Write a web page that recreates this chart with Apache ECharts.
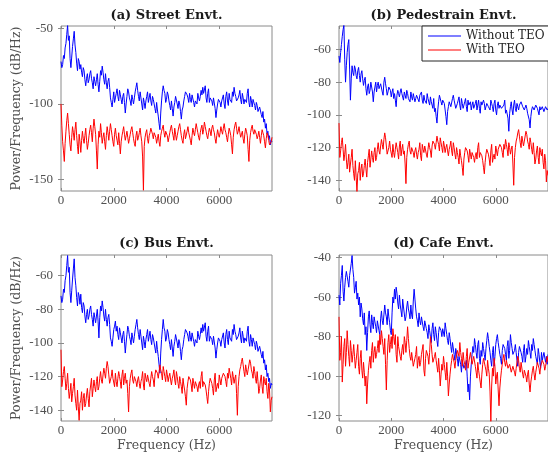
<!DOCTYPE html>
<html>
<head>
<meta charset="utf-8">
<script src="https://cdn.jsdelivr.net/npm/echarts@6/dist/echarts.min.js"></script>
<style>
html,body{margin:0;padding:0;background:#fff;}
#chart{width:548px;height:460px;}
</style>
</head>
<body>
<div id="chart"></div>
<script>
// ---- data: PSD values (dB/Hz) on evenly spaced frequency bins from 0 to 8000 Hz ----
const freqMax = 8000;

const panelTitles = ['(a) Street Envt.', '(b) Pedestrain Envt.', '(c) Bus Envt.', '(d) Cafe Envt.'];
const seriesNames = ['Without TEO', 'With TEO'];
const xTickValues = [0, 2000, 4000, 6000];
const yTicksA = [-150, -100, -50];
const yTicksB = [-140, -120, -100, -80, -60];
const yTicksC = [-140, -120, -100, -80, -60];
const yTicksD = [-120, -100, -80, -60, -40];

const streetWithout = [
-72,-76,-74,-68,-70,-63,-60,-54,-48,-58,-55,-70,-76,-69,-62,-57,-52,-61,-66,-73,-78,-70,-72,-77,-74,-79,-82,-76,-78,-84,-88,-83,-80,-86,-84,-80,-78,-83,-86,-90,
-82,-85,-88,-84,-80,-87,-92,-85,-78,-81,-75,-79,-84,-87,-80,-86,-90,-85,-83,-89,-96,-99,-102,-97,-92,-99,-96,-93,-90,-95,-98,-91,-94,-97,-100,-95,-93,-99,-106,-100,
-95,-90,-92,-96,-98,-101,-94,-97,-100,-96,-92,-89,-86,-91,-95,-98,-92,-96,-100,-104,-96,-99,-103,-98,-95,-92,-99,-96,-93,-98,-101,-95,-97,-100,-103,-106,-99,-104,-108,-113,
-117,-106,-98,-92,-88,-91,-93,-99,-97,-92,-94,-98,-101,-104,-98,-103,-108,-102,-99,-95,-96,-100,-103,-98,-100,-105,-110,-104,-102,-98,-95,-92,-91,-94,-96,-99,-93,-97,-99,-94,
-95,-99,-102,-98,-97,-100,-93,-96,-98,-95,-91,-94,-89,-93,-92,-88,-96,-99,-93,-90,-99,-96,-95,-98,-101,-96,-97,-103,-109,-104,-100,-97,-96,-99,-102,-98,-97,-94,-100,-103,
-95,-92,-98,-101,-93,-97,-96,-99,-92,-95,-89,-93,-95,-98,-99,-96,-94,-91,-97,-100,-93,-96,-100,-97,-96,-99,-93,-90,-99,-102,-95,-98,-102,-97,-98,-101,-104,-99,-101,-105,
-106,-102,-103,-107,-109,-105,-112,-110,-116,-113,-120,-118,-123,-121,-127,-124,-125
];
const streetWith = [
-100,-114,-125,-131,-138,-126,-118,-111,-106,-113,-120,-127,-131,-122,-115,-119,-124,-117,-112,-121,-128,-133,-120,-125,-132,-124,-118,-123,-126,-121,-116,-124,-130,-126,-121,-117,-114,-119,-125,-116,
-110,-115,-120,-131,-143,-127,-118,-122,-113,-119,-126,-122,-119,-125,-130,-121,-115,-119,-124,-118,-113,-117,-121,-125,-128,-120,-116,-121,-124,-127,-119,-126,-133,-125,-121,-118,-115,-120,-124,-121,
-118,-122,-126,-123,-120,-117,-115,-119,-123,-126,-128,-121,-118,-124,-122,-119,-116,-121,-125,-135,-157,-128,-122,-119,-117,-123,-126,-121,-119,-116,-115,-120,-123,-119,-118,-122,-126,-123,-120,-125,
-128,-121,-118,-116,-114,-119,-122,-118,-117,-121,-125,-122,-119,-116,-114,-118,-121,-124,-116,-120,-124,-121,-118,-115,-113,-117,-121,-124,-126,-120,-117,-123,-122,-118,-115,-119,-120,-124,-127,-121,
-116,-119,-121,-117,-113,-116,-119,-122,-124,-119,-116,-114,-120,-117,-112,-115,-118,-121,-123,-119,-116,-118,-121,-116,-114,-117,-119,-123,-126,-121,-117,-120,-122,-119,-115,-118,-120,-116,-113,-117,
-119,-122,-125,-120,-116,-118,-121,-127,-133,-122,-117,-114,-112,-116,-120,-118,-115,-119,-122,-120,-118,-123,-126,-120,-116,-118,-121,-130,-138,-124,-119,-116,-114,-118,-120,-117,-116,-120,-123,-121,
-118,-122,-126,-121,-117,-119,-121,-125,-129,-123,-119,-121,-124,-127,-128,-125,-122
];
const pedWithout = [
-64,-68,-62,-57,-52,-48,-45,-66,-80,-70,-62,-57,-54,-72,-91,-78,-70,-74,-76,-70,-72,-76,-78,-73,-71,-76,-80,-75,-73,-78,-82,-79,-77,-84,-88,-83,-81,-87,-85,-80,
-79,-86,-92,-86,-83,-80,-86,-82,-80,-84,-85,-81,-82,-86,-88,-80,-77,-81,-84,-88,-86,-83,-82,-85,-89,-86,-84,-90,-87,-91,-95,-88,-85,-87,-89,-86,-84,-87,-88,-91,
-86,-88,-90,-85,-87,-90,-89,-92,-86,-89,-91,-87,-88,-92,-90,-88,-87,-89,-92,-88,-89,-86,-91,-93,-88,-91,-90,-93,-87,-90,-91,-94,-89,-92,-93,-96,-90,-98,-96,-101,
-105,-97,-92,-88,-89,-92,-94,-91,-90,-93,-97,-101,-106,-98,-95,-92,-91,-95,-94,-90,-88,-91,-92,-96,-95,-93,-91,-89,-94,-97,-90,-93,-96,-94,-92,-90,-95,-98,-91,-94,
-94,-92,-97,-94,-92,-96,-95,-93,-91,-97,-94,-91,-96,-99,-92,-94,-95,-91,-93,-97,-96,-93,-92,-95,-94,-97,-91,-93,-95,-98,-93,-91,-97,-100,-94,-92,-96,-94,-93,-96,
-97,-95,-94,-91,-99,-97,-96,-102,-110,-99,-95,-92,-97,-100,-94,-91,-96,-98,-93,-95,-97,-94,-94,-92,-92,-95,-95,-97,-98,-94,-96,-99,-100,-103,-108,-101,-97,-95,-94,-97,
-96,-94,-93,-96,-97,-100,-95,-97,-98,-95,-96,-98,-97,-95,-96,-97,-96
];
const pedWith = [
-105,-126,-122,-117,-114,-121,-128,-124,-118,-127,-133,-129,-124,-135,-130,-126,-121,-131,-136,-140,-128,-138,-147,-136,-134,-129,-140,-133,-130,-138,-136,-131,-127,-133,-138,-129,-125,-121,-132,-127,
-122,-126,-129,-123,-120,-128,-126,-121,-117,-122,-124,-119,-115,-118,-121,-115,-111,-114,-119,-124,-125,-120,-116,-121,-122,-126,-118,-123,-126,-121,-117,-120,-123,-127,-119,-116,-125,-121,-118,-124,
-122,-130,-142,-126,-121,-118,-116,-122,-124,-120,-119,-123,-126,-122,-120,-124,-127,-123,-121,-117,-125,-128,-118,-121,-123,-119,-120,-124,-126,-121,-117,-120,-122,-126,-119,-116,-115,-118,-121,-117,
-113,-116,-118,-122,-114,-117,-120,-123,-116,-119,-123,-120,-118,-122,-125,-121,-119,-116,-122,-125,-117,-120,-124,-127,-120,-123,-126,-130,-121,-125,-128,-132,-137,-127,-123,-120,-119,-122,-125,-129,
-121,-124,-127,-123,-122,-126,-129,-125,-123,-127,-120,-117,-126,-123,-122,-125,-128,-132,-136,-129,-124,-121,-120,-124,-127,-131,-122,-118,-129,-126,-124,-127,-119,-122,-125,-121,-121,-118,-117,-120,
-123,-126,-118,-121,-115,-118,-121,-125,-117,-120,-124,-121,-119,-130,-143,-126,-120,-116,-114,-111,-109,-113,-117,-120,-113,-116,-119,-116,-115,-110,-112,-116,-118,-121,-114,-117,-121,-124,-117,-123,
-130,-127,-122,-119,-126,-130,-120,-123,-125,-121,-129,-133,-124,-128,-141,-134,-137
];
const busWithout = [
-72,-76,-74,-68,-70,-63,-60,-54,-48,-58,-55,-70,-76,-69,-62,-56,-50,-61,-66,-73,-78,-70,-72,-77,-71,-79,-82,-76,-78,-84,-88,-83,-80,-86,-84,-80,-78,-83,-86,-90,
-82,-85,-88,-84,-80,-87,-97,-85,-78,-81,-75,-79,-84,-87,-80,-86,-90,-85,-83,-89,-97,-99,-102,-97,-92,-90,-87,-93,-90,-95,-98,-91,-94,-97,-100,-95,-93,-99,-106,-100,
-95,-90,-92,-96,-98,-101,-94,-97,-100,-96,-92,-89,-86,-91,-95,-98,-92,-96,-100,-104,-96,-99,-103,-98,-95,-92,-99,-96,-93,-98,-101,-95,-97,-100,-103,-106,-99,-104,-108,-113,
-118,-106,-98,-92,-86,-91,-93,-99,-97,-92,-94,-98,-101,-104,-98,-103,-108,-102,-99,-95,-96,-100,-103,-98,-100,-105,-110,-104,-102,-98,-95,-92,-91,-94,-96,-99,-93,-97,-99,-94,
-95,-99,-102,-98,-97,-100,-93,-96,-98,-95,-91,-94,-89,-93,-92,-88,-96,-99,-93,-90,-99,-96,-95,-98,-101,-96,-97,-103,-109,-104,-100,-97,-96,-99,-102,-98,-97,-94,-100,-103,
-95,-92,-98,-101,-93,-97,-96,-99,-92,-95,-89,-93,-95,-98,-99,-96,-94,-91,-97,-100,-93,-96,-100,-97,-96,-99,-93,-90,-99,-102,-95,-98,-102,-97,-98,-101,-104,-99,-101,-105,
-106,-102,-103,-107,-109,-105,-112,-110,-116,-113,-120,-118,-123,-121,-127,-124,-125
];
const busWith = [
-104,-126,-122,-117,-114,-121,-128,-124,-118,-127,-133,-129,-124,-135,-130,-126,-121,-131,-136,-140,-128,-138,-146,-136,-134,-129,-140,-133,-130,-138,-136,-131,-127,-133,-138,-129,-125,-121,-132,-127,
-122,-126,-129,-123,-120,-128,-126,-121,-117,-122,-124,-119,-115,-118,-121,-115,-111,-114,-119,-124,-125,-120,-116,-121,-122,-126,-118,-123,-126,-121,-117,-120,-123,-127,-119,-116,-125,-121,-118,-124,
-122,-130,-141,-126,-121,-118,-116,-122,-124,-120,-119,-123,-126,-122,-120,-124,-127,-123,-121,-117,-125,-128,-118,-121,-123,-119,-120,-124,-126,-121,-117,-120,-122,-126,-119,-116,-115,-118,-121,-117,
-113,-116,-118,-122,-114,-117,-120,-123,-116,-119,-123,-120,-118,-122,-125,-121,-119,-116,-122,-125,-117,-120,-124,-127,-120,-123,-126,-130,-121,-125,-128,-132,-137,-127,-123,-120,-119,-122,-125,-129,
-121,-124,-127,-123,-122,-126,-129,-125,-123,-127,-120,-117,-126,-123,-122,-125,-128,-132,-136,-129,-124,-121,-120,-124,-127,-131,-122,-118,-129,-126,-124,-127,-119,-122,-125,-121,-121,-118,-117,-120,
-123,-126,-118,-121,-115,-118,-121,-125,-117,-120,-124,-121,-119,-130,-143,-126,-120,-116,-114,-111,-109,-113,-117,-120,-113,-116,-119,-116,-115,-110,-112,-116,-118,-121,-114,-117,-121,-124,-117,-123,
-130,-127,-122,-119,-126,-130,-120,-123,-125,-121,-129,-133,-124,-128,-141,-134,-132
];
const cafeWithout = [
-59,-64,-53,-49,-44,-57,-62,-55,-50,-47,-46,-52,-55,-49,-48,-43,-39,-46,-50,-58,-55,-52,-61,-58,-64,-60,-70,-63,-66,-71,-74,-68,-79,-75,-87,-78,-70,-67,-74,-78,
-69,-73,-76,-70,-71,-75,-78,-72,-73,-77,-79,-71,-67,-72,-74,-69,-64,-68,-70,-74,-66,-70,-73,-77,-79,-68,-60,-63,-56,-61,-55,-58,-63,-66,-59,-64,-67,-70,-61,-65,
-66,-72,-70,-65,-62,-66,-68,-71,-64,-69,-71,-62,-56,-61,-66,-70,-72,-75,-68,-72,-74,-70,-71,-75,-77,-72,-73,-76,-78,-81,-74,-77,-80,-83,-76,-73,-79,-82,-75,-78,
-82,-85,-78,-75,-74,-77,-80,-76,-77,-80,-73,-76,-79,-82,-84,-78,-81,-85,-88,-83,-84,-89,-92,-86,-87,-91,-95,-90,-89,-94,-98,-92,-93,-96,-97,-94,-92,-100,-108,-104,
-112,-100,-94,-89,-85,-88,-81,-84,-88,-91,-84,-82,-91,-94,-87,-90,-83,-86,-89,-92,-86,-82,-78,-81,-85,-88,-92,-95,-88,-85,-95,-90,-84,-81,-79,-83,-86,-89,-91,-94,
-87,-84,-83,-86,-89,-92,-85,-82,-91,-87,-79,-83,-86,-89,-90,-87,-84,-88,-92,-95,-88,-85,-85,-88,-90,-93,-87,-84,-93,-90,-86,-89,-82,-85,-88,-91,-84,-87,-81,-84,
-87,-90,-91,-94,-86,-89,-93,-96,-88,-92,-91,-88,-87,-93,-90,-94,-89
];
const cafeWith = [
-70,-92,-88,-80,-103,-94,-85,-81,-95,-88,-77,-84,-90,-95,-82,-87,-93,-89,-84,-90,-96,-92,-88,-84,-95,-99,-91,-87,-97,-101,-93,-98,-105,-100,-114,-104,-97,-93,-90,-96,
-87,-83,-93,-88,-85,-91,-89,-86,-82,-88,-79,-84,-77,-81,-85,-89,-81,-94,-107,-92,-83,-79,-88,-84,-80,-86,-76,-80,-84,-79,-89,-93,-80,-85,-86,-90,-92,-87,-84,-89,
-80,-83,-88,-82,-75,-81,-86,-90,-92,-88,-87,-95,-93,-91,-89,-85,-96,-92,-90,-95,-93,-89,-88,-84,-97,-100,-91,-87,-86,-90,-94,-88,-80,-84,-89,-93,-94,-90,-88,-92,
-95,-98,-91,-97,-105,-99,-94,-97,-90,-94,-98,-102,-93,-100,-110,-104,-99,-95,-92,-89,-88,-93,-96,-92,-91,-87,-86,-90,-83,-88,-91,-95,-88,-92,-94,-97,-90,-86,-96,-93,
-92,-88,-89,-94,-95,-90,-91,-95,-98,-101,-93,-97,-100,-103,-106,-99,-94,-91,-90,-95,-97,-100,-92,-96,-99,-108,-123,-105,-96,-100,-91,-95,-104,-100,-98,-107,-115,-106,-101,-97,
-94,-91,-89,-93,-95,-92,-91,-96,-97,-94,-93,-98,-99,-95,-94,-98,-100,-96,-95,-90,-92,-96,-98,-93,-94,-99,-101,-97,-96,-100,-103,-99,-97,-104,-108,-103,-100,-97,-95,-99,
-102,-98,-97,-93,-93,-96,-99,-95,-95,-92,-91,-94,-97,-95,-94,-90,-93
];

// ---- layout ----
const panels = [
  {title: panelTitles[0], blue: streetWithout, red: streetWith, yMin: -157.5, yMax: -48.5, yTicks: yTicksA,
   grid: {left: 61, top: 26, width: 211, height: 165}, titleTop: 9, yName: true, xName: false},
  {title: panelTitles[1], blue: pedWithout, red: pedWith, yMin: -146.5, yMax: -45.7, yTicks: yTicksB,
   grid: {left: 339, top: 26, width: 209, height: 165}, titleTop: 9, yName: false, xName: false},
  {title: panelTitles[2], blue: busWithout, red: busWith, yMin: -146.4, yMax: -47.7, yTicks: yTicksC,
   grid: {left: 61, top: 255, width: 211, height: 166}, titleTop: 237, yName: true, xName: true},
  {title: panelTitles[3], blue: cafeWithout, red: cafeWith, yMin: -122.7, yMax: -38.7, yTicks: yTicksD,
   grid: {left: 339, top: 255, width: 209, height: 166}, titleTop: 237, yName: false, xName: true}
];

const boxColor = '#8a8a8a';
const labelColor = '#505050';
const serif = 'DejaVu Serif';
const tickFont = 'Liberation Serif';

const grids = [], xAxes = [], yAxes = [], series = [], titles = [];
panels.forEach((p, i) => {
  grids.push(Object.assign({show: true, borderColor: boxColor, borderWidth: 1, containLabel: false}, p.grid));
  titles.push({
    text: p.title, left: p.grid.left + p.grid.width / 2, top: p.titleTop, textAlign: 'center', padding: 0,
    textStyle: {fontFamily: serif, fontWeight: 'bold', fontSize: 13, color: '#1a1a1a'}
  });
  const tickStyle = {show: true, inside: true, length: 3, lineStyle: {color: boxColor, width: 1}};
  xAxes.push({
    type: 'value', gridIndex: i, min: 0, max: freqMax, position: 'bottom',
    axisLine: {show: false}, splitLine: {show: false},
    axisTick: Object.assign({customValues: xTickValues}, tickStyle),
    axisLabel: {customValues: xTickValues, formatter: v => String(v), margin: 3,
                fontFamily: tickFont, fontSize: 13, color: labelColor},
    name: p.xName ? 'Frequency (Hz)' : '', nameLocation: 'middle', nameGap: 18,
    nameTextStyle: {fontFamily: serif, fontSize: 12.5, color: labelColor}
  });
  xAxes.push({
    type: 'value', gridIndex: i, min: 0, max: freqMax, position: 'top',
    axisLine: {show: false}, splitLine: {show: false},
    axisTick: Object.assign({customValues: xTickValues}, tickStyle),
    axisLabel: {show: false}
  });
  yAxes.push({
    type: 'value', gridIndex: i, min: p.yMin, max: p.yMax, position: 'left',
    axisLine: {show: false}, splitLine: {show: false},
    axisTick: Object.assign({customValues: p.yTicks}, tickStyle),
    axisLabel: {customValues: p.yTicks, formatter: v => String(v), margin: 8,
                fontFamily: tickFont, fontSize: 13, color: labelColor},
    name: p.yName ? 'Power/Frequency (dB/Hz)' : '', nameLocation: 'middle', nameGap: 38, nameRotate: 90,
    nameTextStyle: {fontFamily: serif, fontSize: 12.5, color: labelColor}
  });
  yAxes.push({
    type: 'value', gridIndex: i, min: p.yMin, max: p.yMax, position: 'right',
    axisLine: {show: false}, splitLine: {show: false},
    axisTick: Object.assign({customValues: p.yTicks}, tickStyle),
    axisLabel: {show: false}
  });
  const toPairs = arr => arr.map((v, k) => [k * freqMax / (arr.length - 1), v]);
  series.push({
    name: seriesNames[0], type: 'line', xAxisIndex: 2 * i, yAxisIndex: 2 * i,
    data: toPairs(p.blue), symbol: 'none', showSymbol: false, clip: true,
    lineStyle: {color: '#0000ff', width: 1}, itemStyle: {color: '#0000ff'}
  });
  series.push({
    name: seriesNames[1], type: 'line', xAxisIndex: 2 * i, yAxisIndex: 2 * i,
    data: toPairs(p.red), symbol: 'none', showSymbol: false, clip: true,
    lineStyle: {color: '#ff0000', width: 1}, itemStyle: {color: '#ff0000'}
  });
});

const chart = echarts.init(document.getElementById('chart'), null, {renderer: 'canvas'});
chart.setOption({
  animation: false,
  backgroundColor: '#ffffff',
  title: titles,
  grid: grids,
  xAxis: xAxes,
  yAxis: yAxes,
  legend: {
    data: seriesNames, orient: 'vertical', left: 422, top: 26,
    backgroundColor: '#ffffff', borderColor: '#262626', borderWidth: 1, borderRadius: 0,
    padding: [3, 6, 4, 6], itemGap: 0, itemWidth: 33, itemHeight: 1, icon: 'rect',
    textStyle: {fontFamily: serif, fontSize: 12, color: '#262626', lineHeight: 14},
    selectedMode: false
  },
  series: series
});
</script>
</body>
</html>
